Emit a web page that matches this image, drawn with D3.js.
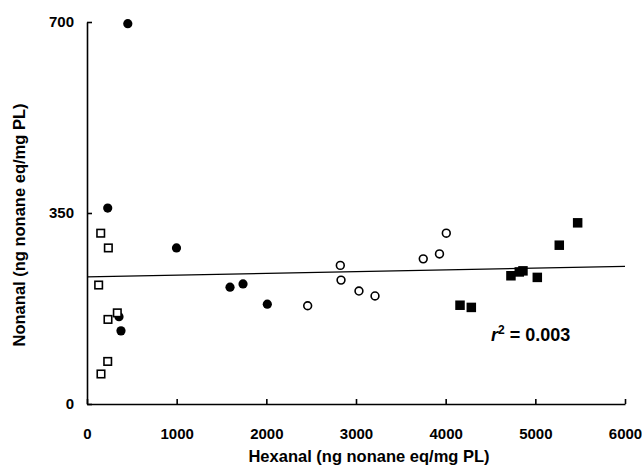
<!DOCTYPE html>
<html>
<head>
<meta charset="utf-8">
<script src="https://cdn.jsdelivr.net/npm/d3@7/dist/d3.min.js"></script>
<style>
  html, body { margin: 0; padding: 0; background: #fff; }
  svg { display: block; font-family: "Liberation Sans", Arial, sans-serif; }
  .axis text { font-weight: bold; font-size: 15px; fill: #000; }
  .axis path, .axis line { stroke: #000; stroke-width: 1.6px; }
</style>
</head>
<body>
<svg id="chart" width="642" height="470"></svg>
<script>
// ---- data ----
const filledCircles = [
  [455, 697], [231, 359], [998, 286], [357, 160], [379, 134],
  [1595, 214], [1740, 220], [2011, 183]
];
const openSquares = [
  [153, 313], [238, 286], [130, 218], [338, 167], [234, 155],
  [231, 78], [156, 55]
];
const openCircles = [
  [2461, 180], [2825, 254], [2833, 227], [3033, 207], [3212, 198],
  [3750, 266], [3931, 275], [4007, 313]
];
const filledSquares = [
  [4160, 181], [4286, 177], [4728, 235], [4821, 242], [4862, 244],
  [5022, 232], [5267, 291], [5472, 332]
];
const fitIntercept = 233;
const fitSlope = 0.0032;
const fitRange = [0, 6000];
const xTicks = [0, 1000, 2000, 3000, 4000, 5000, 6000];
const yTicks = [0, 350, 700];
const xTitle = "Hexanal (ng nonane eq/mg PL)";
const yTitle = "Nonanal (ng nonane eq/mg PL)";
const r2Value = "0.003";

// ---- chart ----
const svg = d3.select("#chart");
const x = d3.scaleLinear().domain([0, 6000]).range([87, 625]);
const y = d3.scaleLinear().domain([0, 700]).range([404, 22]);

svg.append("g").attr("class", "axis")
  .attr("transform", `translate(0,${y(0)})`)
  .call(d3.axisBottom(x).tickValues(xTicks).tickSizeInner(-5).tickSizeOuter(0).tickPadding(24).tickFormat(d3.format("d")));

svg.append("g").attr("class", "axis")
  .attr("transform", `translate(${x(0)},0)`)
  .call(d3.axisLeft(y).tickValues(yTicks).tickSizeInner(-5).tickSizeOuter(0).tickPadding(13).tickFormat(d3.format("d")));

// regression line
svg.append("line")
  .attr("x1", x(fitRange[0])).attr("y1", y(fitIntercept + fitSlope * fitRange[0]))
  .attr("x2", x(fitRange[1])).attr("y2", y(fitIntercept + fitSlope * fitRange[1]))
  .attr("stroke", "#000").attr("stroke-width", 1.3);

// markers
svg.append("g").selectAll("circle").data(filledCircles).join("circle")
  .attr("cx", d => x(d[0])).attr("cy", d => y(d[1])).attr("r", 4.6).attr("fill", "#000");

svg.append("g").selectAll("circle").data(openCircles).join("circle")
  .attr("cx", d => x(d[0])).attr("cy", d => y(d[1])).attr("r", 3.9)
  .attr("fill", "#fff").attr("stroke", "#000").attr("stroke-width", 1.6);

const os = 7.5;
svg.append("g").selectAll("rect").data(openSquares).join("rect")
  .attr("x", d => x(d[0]) - os / 2).attr("y", d => y(d[1]) - os / 2)
  .attr("width", os).attr("height", os)
  .attr("fill", "#fff").attr("stroke", "#000").attr("stroke-width", 1.6);

const fs = 9.5;
svg.append("g").selectAll("rect").data(filledSquares).join("rect")
  .attr("x", d => x(d[0]) - fs / 2).attr("y", d => y(d[1]) - fs / 2)
  .attr("width", fs).attr("height", fs).attr("fill", "#000");

// r^2 annotation
const t = svg.append("text").attr("x", 491).attr("y", 341)
  .attr("font-weight", "bold").attr("font-size", 18).attr("fill", "#000");
t.append("tspan").attr("font-style", "italic").text("r");
t.append("tspan").attr("font-size", 12).attr("dy", -7).text("2");
t.append("tspan").attr("dy", 7).text(" = " + r2Value);

// axis titles
svg.append("text").attr("x", 369).attr("y", 462).attr("text-anchor", "middle")
  .attr("font-weight", "bold").attr("font-size", 16.5).text(xTitle);

svg.append("text").attr("transform", `translate(25,${225}) rotate(-90)`)
  .attr("text-anchor", "middle")
  .attr("font-weight", "bold").attr("font-size", 16.5).text(yTitle);
</script>
</body>
</html>
